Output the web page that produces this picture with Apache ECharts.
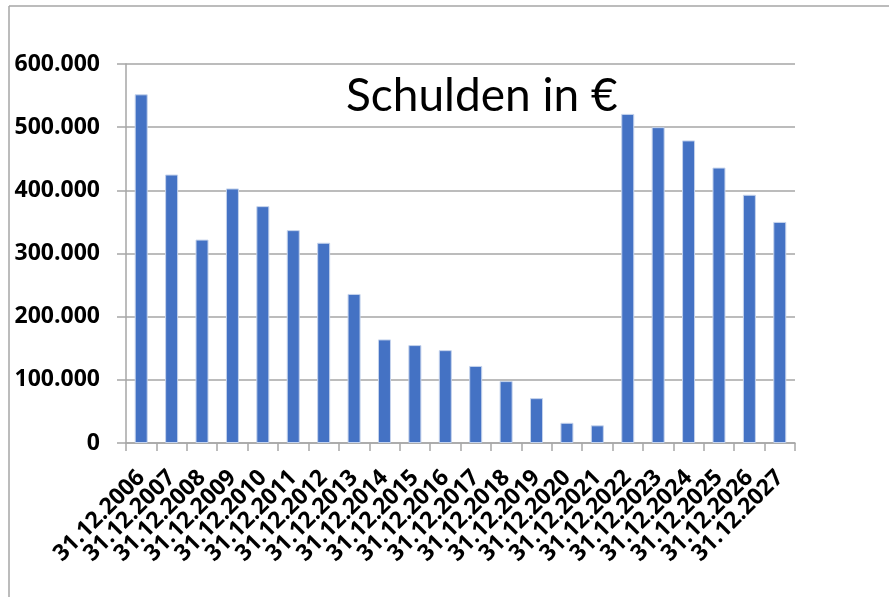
<!DOCTYPE html>
<html>
<head>
<meta charset="utf-8">
<script src="https://cdn.jsdelivr.net/npm/echarts@6/dist/echarts.min.js"></script>
<style>
  html, body { margin: 0; padding: 0; background: #fff; }
  #chart { width: 889px; height: 597px; }
</style>
</head>
<body>
<div id="chart"></div>
<script>
// Stichtage
var categories = [
  '31.12.2006', '31.12.2007', '31.12.2008', '31.12.2009', '31.12.2010', '31.12.2011',
  '31.12.2012', '31.12.2013', '31.12.2014', '31.12.2015', '31.12.2016', '31.12.2017',
  '31.12.2018', '31.12.2019', '31.12.2020', '31.12.2021', '31.12.2022', '31.12.2023',
  '31.12.2024', '31.12.2025', '31.12.2026', '31.12.2027'
]
// Schulden in Euro
var schulden = [
  552000, 425000, 322000, 403000, 375000, 337000,
  317000, 236000, 164000, 155000, 147000, 122000,
  98000, 71000, 32000, 28000, 521000, 500000,
  479000, 436000, 393000, 350000
]
var yTicks = [0, 100000, 200000, 300000, 400000, 500000, 600000]

var myChart = echarts.init(document.getElementById('chart'))

// 600000 -> "600.000"
function fmt(v) {
  return v === 0 ? '0' : String(v).replace(/\B(?=(\d{3})+(?!\d))/g, '.')
}

var option = {
  backgroundColor: '#fff',
  animation: false,
  title: {
    text: 'Schulden in €',
    left: 341,
    top: 68,
    textStyle: {
      fontFamily: 'Lato',
      fontWeight: 'normal',
      fontSize: 46,
      color: '#000'
    }
  },
  graphic: [
    // Rahmen oben und links
    { type: 'line', shape: { x1: 9, y1: 6, x2: 889, y2: 6 }, style: { stroke: '#a6a6a6', lineWidth: 1.5 } },
    { type: 'line', shape: { x1: 9, y1: 6, x2: 9, y2: 597 }, style: { stroke: '#a6a6a6', lineWidth: 1.5 } }
  ],
  grid: {
    left: 126,
    right: 94,
    top: 64,
    bottom: 154,
    containLabel: false
  },
  xAxis: {
    type: 'category',
    data: categories,
    axisLine: { lineStyle: { color: '#a6a6a6', width: 1.5 } },
    axisTick: { show: true, length: 8, lineStyle: { color: '#a6a6a6', width: 1.5 } },
    axisLabel: {
      interval: 0,
      rotate: 45,
      margin: 31,
      fontFamily: 'Open Sans',
      fontWeight: 'bold',
      fontSize: 23,
      color: '#000'
    }
  },
  yAxis: {
    type: 'value',
    min: yTicks[0],
    max: yTicks[yTicks.length - 1],
    interval: 100000,
    axisLine: { show: true, lineStyle: { color: '#a6a6a6', width: 1.5 } },
    axisTick: { show: true, length: 9, lineStyle: { color: '#a6a6a6', width: 1.5 } },
    splitLine: { show: true, lineStyle: { color: '#a6a6a6', width: 1.5 } },
    axisLabel: {
      margin: 26,
      fontFamily: 'Open Sans',
      fontWeight: 'bold',
      fontSize: 23,
      color: '#000',
      formatter: fmt
    }
  },
  series: [
    {
      type: 'bar',
      data: schulden,
      barWidth: 13,
      itemStyle: {
        color: '#4472c4',
        borderColor: '#c5d3ec',
        borderWidth: 1
      }
    }
  ]
}

myChart.setOption(option)
window.addEventListener('resize', function() {
  myChart.resize()
})
</script>
</body>
</html>
